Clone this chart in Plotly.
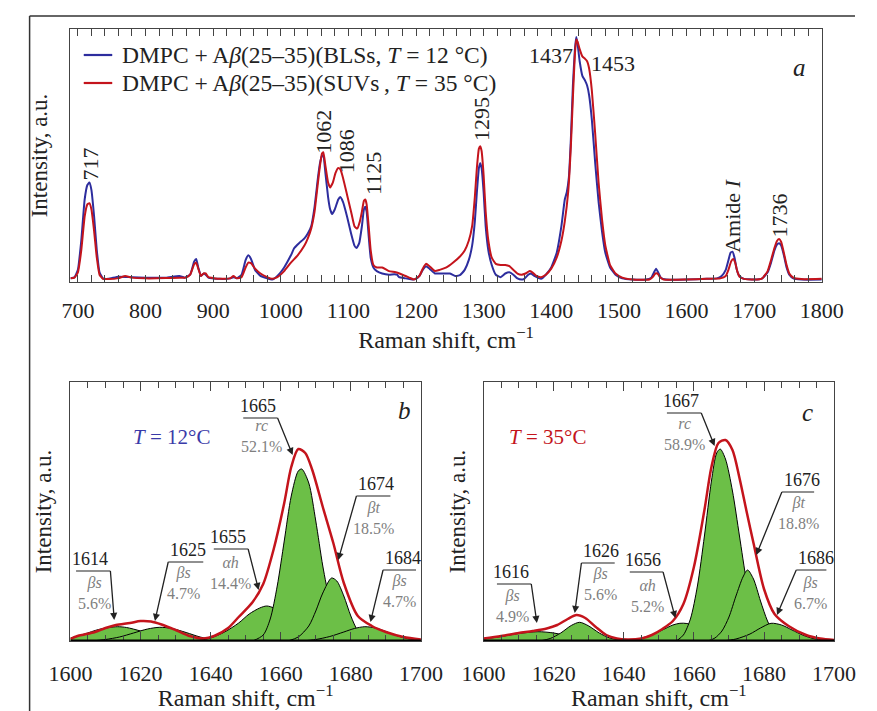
import plotly.graph_objects as go

W, H = 877, 711

# ---------------- Panel a: Raman spectra ----------------
blue_w = [689,695,700,705,710,714,717,720,724,728,732,737,745,760,780,800,830,850,858,866,872,875,878,882,886,889,893,910,925,930,935,942,948,952,956,962,970,980,987,
          995,1005,1015,1020,1027,1035,1040,1045,1050,1055,1058,1061,1063,1066,1070,1073,1076,1080,1085,1088,1092,1098,1104,1109,1112,1116,1120,1123,1125,1127,1130,1133,1137,1142,1150,1160,1168,1172,1175,1185,1195,
          1200,1205,1210,1215,1220,1228,1235,1242,1250,1258,1265,1272,1278,1283,1287,1290,1293,1295,1297,1300,1303,1307,1312,1318,1325,1332,1338,1344,1350,1356,1360,1366,1370,1375,1385,1392,1400,1408,1415,1420,1423,1426,1429,1432,1435,1437,1439,1442,1446,1450,1453,1456,1460,1465,1470,1475,1480,1487,1495,1505,1520,
          1540,1548,1552,1555,1558,1562,1570,1600,1630,1645,1652,1658,1662,1665,1668,1671,1674,1678,1685,1700,1712,1720,1725,1730,1734,1737,1740,1744,1748,1752,1758,1770,1800]
blue_i = [0.5,1,4,16,33,39,40,37,26,12,3,0.5,0.3,1.2,1,0.8,0.8,1.5,0.8,2,7.5,8.5,5,1.5,2.5,2,0.8,0.3,0.5,1,0.5,2,8,10,8.5,4,1.5,0.5,0,
          1.5,5,10,13,15,17,19,22,30,42,48,51,51,44,34,29,27,29,33,34,32,26,19,14,13,15,22,29,30,28,18,9,5,3.5,2.5,2,2.2,2,1,0.5,0,
          0.3,1.5,4,5.5,4.5,2.5,2.5,2.5,2.5,1.5,1.8,4,8,14,24,36,46,48,46,36,22,12,6,2,1,2.5,3,2,0.5,0,0.3,2,2.5,1.5,0.3,2,5,11,22,33,36,42,58,80,95,100,97,90,84,82,80,76,66,48,32,20,11,5,2,0.5,0,
          0,0.8,3,4.5,3,0.8,0,0,0.3,0.5,1.5,4,8,11,11.5,9,4.5,1.5,0.3,0,0.5,3,7,12,14.5,15,14,10,5,2,0.5,0,0]

red_w = [689,695,700,705,710,714,717,720,724,728,732,737,745,760,770,780,800,830,850,860,866,872,875,878,882,886,889,893,910,925,930,935,942,948,952,956,962,970,980,987,
         995,1005,1015,1025,1035,1040,1045,1050,1055,1058,1061,1063,1066,1070,1073,1077,1081,1085,1088,1092,1098,1104,1109,1113,1117,1120,1123,1125,1127,1130,1133,1137,1142,1150,1160,1170,1180,1190,1197,
         1205,1210,1215,1220,1228,1235,1245,1255,1265,1272,1278,1283,1287,1290,1293,1295,1297,1300,1303,1307,1312,1318,1325,1332,1338,1344,1350,1356,1362,1368,1372,1378,1385,1392,1400,1408,1415,1420,1425,1429,1432,1435,1437,1439,1442,1446,1450,1453,1456,1460,1465,1470,1475,1480,1487,1495,1505,1520,
         1545,1550,1554,1557,1561,1566,1600,1630,1650,1658,1662,1666,1669,1672,1675,1679,1685,1700,1712,1720,1725,1730,1734,1737,1740,1744,1748,1752,1758,1770,1800]
red_i = [0.5,0.8,3,12,26,31,31.5,29,20,9,2,0.3,0.2,0.6,1.5,0.8,0.5,0.6,0.8,0.8,2,6.3,7,4.5,1.5,2.5,2.5,1,0.3,0.5,1.5,0.5,1,5,7,6.8,4.5,2.5,1,0.3,
         1,3.5,7,10,14,17,21,28,40,47,52,52.5,47,40,38,40,44,46,45.5,42,35,28,22,21,24,28,32.5,33,31,22,12,6,5,5,3.5,3,2,0.8,0,
         1.5,4.5,6.5,5.5,3.5,4,5,7,9.5,12,16,22,34,46,54,55,53,43,28,16,9,6.5,6,6,5.5,4,2.5,2,2.5,3.5,3,1.5,1,2,4.5,9,16,24,36,55,75,93,99,98,95,92,91,90,87,78,60,40,25,14,6,2.5,0.8,0,
         0,1,2.5,2.5,1,0,0,0.3,0.5,1.5,4,7.5,8.5,7,3.5,1,0.3,0,0.5,3.5,8,13,16,16.7,15.5,11,6,2.5,0.8,0.2,0.3]

legend_names = ["DMPC + A<i>β</i>(25–35)(BLSs, <i>T</i> = 12 °C)",
                "DMPC + A<i>β</i>(25–35)(SUVs\u2009, <i>T</i> = 35 °C)"]

peak_labels_rot = ["717", "1062", "1086", "1125", "1295", "Amide <i>I</i>", "1736"]
peak_label_rot_pos = [(718, 47.5), (1064, 61), (1097, 53), (1137, 43.7), (1297, 66), (1668, 26.5), (1737, 26.5)]
peak_labels_h = ["1437", "1453"]
peak_label_h_pos = [(1399, 92.4), (1491, 89)]

y_title = "Intensity, a.u."
x_title = "Raman shift, cm<sup>−1</sup>"

# ---------------- Panels b, c: band fits ----------------
b_env_w = [1600,1602,1604,1607,1610,1613,1617,1620,1623,1626,1630,1634,1638,1641,1645,1648,1652,1655,1658,1661,1663,1665,1667,1669,1672,1675,1678,1682,1686,1690,1695,1700]
b_env_i = [2,5,6.5,9,13,16,18,20,19.5,16.5,11,5,2.5,5,13,24,39,57,92,138,174,192,188,171,134,98,58,25,15,9,4,1.5]

b_comp_w = [
    [1600,1604,1608,1611,1613.5,1616,1620,1624,1628,1632,1636],
    [1606,1610,1614,1618,1622,1625.5,1629,1633,1637,1641,1645],
    [1636,1640,1644,1648,1651,1654,1656,1658,1661,1664,1667,1670,1674],
    [1652,1655,1657,1659,1661,1663,1665,1666,1668,1670,1672,1674,1676,1678,1680,1683],
    [1662,1665,1668,1670,1672,1674.5,1676,1678,1680,1682,1684,1686],
    [1666,1670,1674,1678,1681,1684,1687,1690,1693,1696,1700],
]
b_comp_i = [
    [3,7,11.5,13.5,14.3,13.5,10,5.5,2.5,0.8,0],
    [0,1.5,4,8,12,13.7,12.5,8.5,4,1.2,0],
    [0,3,9,18,27,33,35,33,25,15,7,2.5,0],
    [0,6,22,55,100,145,170,172,158,120,75,40,18,7,2,0],
    [0,4,15,30,48,63,60,45,25,10,3,0],
    [0,1.5,4.5,9,12.5,14.3,13,9.5,5.5,2.5,0.5],
]
b_nums = ["1614", "1625", "1655", "1665", "1674", "1684"]
b_subs = ["<i>βs</i><br>5.6%", "<i>βs</i><br>4.7%", "<i>αh</i><br>14.4%", "<i>rc</i><br>52.1%", "<i>βt</i><br>18.5%", "<i>βs</i><br>4.7%"]

c_env_w = [1600,1605,1610,1614,1618,1621,1624,1626.5,1629,1632,1635,1638,1641,1645,1648,1651,1654,1657,1660,1663,1665,1667,1669,1671,1673,1675,1677,1680,1683,1687,1692,1696,1700]
c_env_i = [2.5,5,8,10,12.5,16,22,26,23,14,6,2.5,1.5,2.5,6,12,20,37,74,131,174,198,201,191,163,130,98,52,27,15,6,2.5,1]

c_comp_w = [
    [1600,1605,1610,1615.5,1620,1624,1628,1632,1636],
    [1616,1619,1622,1625,1627.4,1630,1633,1636,1640,1643],
    [1640,1644,1648,1651,1654,1656,1658,1661,1664,1668,1672],
    [1655,1657,1659,1661,1663,1665,1666.5,1667.5,1669,1671,1673,1675,1677,1679,1681,1683],
    [1664,1666,1668,1670,1672,1674,1675.3,1677,1679,1681,1683,1685,1687],
    [1668,1672,1676,1679,1682,1685,1688,1691,1694,1698],
]
c_comp_i = [
    [2,4.5,7.5,9.3,8,5,2.5,1,0],
    [0,2.5,8,15.5,18.7,15,8,3,0.5,0],
    [0,2,6,11,16,17.7,17.5,14,8,3,0],
    [0,6,22,55,105,160,188,192,182,150,105,60,28,10,3,0],
    [0,3,10,24,45,64,71,62,40,20,7,2,0],
    [0,2,7,13,17.7,16,11,6,2.5,0.5],
]
c_nums = ["1616", "1626", "1656", "1667", "1676", "1686"]
c_subs = ["<i>βs</i><br>4.9%", "<i>βs</i><br>5.6%", "<i>αh</i><br>5.2%", "<i>rc</i><br>58.9%", "<i>βt</i><br>18.8%", "<i>βs</i><br>6.7%"]

# label layout (data units): underline x0,x1,y ; side of underline where the arrow starts ; sub-text xy ; arrow tip
b_layout = [
    dict(ul=(1601.6, 1611.4, 70), side="right", sub=(1606.8, 48.5), tip=(1612.5, 21)),
    dict(ul=(1627.9, 1637.9, 79), side="left", sub=(1632.2, 58.5), tip=(1624.1, 20)),
    dict(ul=(1640.9, 1650.7, 92), side="right", sub=(1645.8, 68.5), tip=(1653.7, 51)),
    dict(ul=(1649.3, 1659.1, 223), side="right", sub=(1654.5, 205), tip=(1663.4, 186)),
    dict(ul=(1681.6, 1691.3, 145), side="left", sub=(1686.4, 123.5), tip=(1676.4, 81)),
    dict(ul=(1689.2, 1698.6, 71), side="left", sub=(1693.8, 50), tip=(1685.6, 19)),
]
c_layout = [
    dict(ul=(1603.8, 1613.6, 57), side="right", sub=(1608.1, 35), tip=(1615.2, 18)),
    dict(ul=(1627.9, 1637.4, 78), side="left", sub=(1633.3, 57), tip=(1626.0, 28)),
    dict(ul=(1641.7, 1651.2, 69), side="right", sub=(1646.9, 45), tip=(1654.7, 23)),
    dict(ul=(1652.3, 1662.1, 228), side="right", sub=(1657.2, 207), tip=(1665.9, 195)),
    dict(ul=(1685.1, 1694.3, 149), side="left", sub=(1689.7, 128.5), tip=(1677.8, 86)),
    dict(ul=(1689.2, 1697.8, 71), side="left", sub=(1693.2, 48.5), tip=(1683.7, 26)),
]

# ---------------- styles ----------------
FONT = "Liberation Serif"
BLUE = "#2d2d9e"
RED = "#c4141c"
GREEN = "#6cbf47"
AX = "#444444"
GREY = "#7f7f7f"
TXT = "#222222"

def px_x(p):
    return p / W

def px_y(p):
    return 1 - p / H

fig = go.Figure()

fig.add_trace(go.Scatter(x=blue_w, y=blue_i, mode="lines", name=legend_names[0], showlegend=False,
                         line=dict(color=BLUE, width=2, shape="spline", smoothing=0.4),
                         xaxis="x", yaxis="y"))
fig.add_trace(go.Scatter(x=red_w, y=red_i, mode="lines", name=legend_names[1], showlegend=False,
                         line=dict(color=RED, width=2, shape="spline", smoothing=0.4),
                         xaxis="x", yaxis="y"))

for ws, iis in zip(b_comp_w, b_comp_i):
    fig.add_trace(go.Scatter(x=ws, y=iis, mode="lines", fill="tozeroy", fillcolor=GREEN,
                             line=dict(color="black", width=1, shape="spline", smoothing=0.8),
                             showlegend=False, xaxis="x2", yaxis="y2"))
fig.add_trace(go.Scatter(x=b_env_w, y=b_env_i, mode="lines",
                         line=dict(color=RED, width=2.5, shape="spline", smoothing=0.8),
                         showlegend=False, xaxis="x2", yaxis="y2"))
for ws, iis in zip(c_comp_w, c_comp_i):
    fig.add_trace(go.Scatter(x=ws, y=iis, mode="lines", fill="tozeroy", fillcolor=GREEN,
                             line=dict(color="black", width=1, shape="spline", smoothing=0.8),
                             showlegend=False, xaxis="x3", yaxis="y3"))
fig.add_trace(go.Scatter(x=c_env_w, y=c_env_i, mode="lines",
                         line=dict(color=RED, width=2.5, shape="spline", smoothing=0.8),
                         showlegend=False, xaxis="x3", yaxis="y3"))

common_x = dict(showline=True, linecolor=AX, linewidth=1.2, mirror="ticks", ticks="inside",
                tickcolor=AX, showgrid=False, zeroline=False,
                tickfont=dict(family=FONT, size=22, color=TXT),
                title_font=dict(family=FONT, size=24, color=TXT))
common_y = dict(showline=True, linecolor=AX, linewidth=1.2, mirror=True, ticks="",
                showticklabels=False, showgrid=False, zeroline=False,
                title_font=dict(family=FONT, size=23, color=TXT))

fig.update_layout(
    width=W, height=H, margin=dict(l=0, r=0, t=0, b=0),
    paper_bgcolor="white", plot_bgcolor="white",
    font=dict(family=FONT, color=TXT),
    showlegend=False,
    xaxis=dict(**common_x, domain=[px_x(51), px_x(842)], range=[689, 1800], dtick=100, tick0=700,
               ticklen=7, minor=dict(ticks="inside", dtick=20, ticklen=7, tickcolor=AX),
               ticklabelstandoff=8,
               title=dict(text=x_title, standoff=9), anchor="y"),
    yaxis=dict(**common_y, domain=[px_y(282), px_y(29)], range=[-1.0, 103.3], anchor="x",
               title=dict(text=y_title, standoff=15)),
    xaxis2=dict(**common_x, domain=[px_x(51), px_x(420)], range=[1600, 1700], dtick=20,
                ticklen=9, minor=dict(ticks="inside", dtick=5, ticklen=6, tickcolor=AX),
                ticklabelstandoff=12,
                title=dict(text=x_title, standoff=5), anchor="y2"),
    yaxis2=dict(**common_y, domain=[px_y(641), px_y(382)], range=[0, 259], anchor="x2",
                title=dict(text=y_title, standoff=11)),
    xaxis3=dict(**common_x, domain=[px_x(486), px_x(855)], range=[1600, 1700], dtick=20,
                ticklen=9, minor=dict(ticks="inside", dtick=5, ticklen=6, tickcolor=AX),
                ticklabelstandoff=12,
                title=dict(text=x_title, standoff=5), anchor="y3"),
    yaxis3=dict(**common_y, domain=[px_y(641), px_y(382)], range=[0, 259], anchor="x3",
                title=dict(text=y_title, standoff=10)),
)

shapes = []
annotations = []
# outer frame (top and left rules)
shapes.append(dict(type="line", xref="paper", yref="paper", x0=px_x(8), x1=1.0, y0=px_y(16), y1=px_y(16),
                   line=dict(color="#333", width=1.5)))
shapes.append(dict(type="line", xref="paper", yref="paper", x0=px_x(8), x1=px_x(8), y0=px_y(16), y1=0,
                   line=dict(color="#333", width=1.5)))
# thick baselines of bottom panels
for xr, yr in (("x2", "y2"), ("x3", "y3")):
    shapes.append(dict(type="line", xref=xr + " domain", yref=yr, x0=0, x1=1, y0=0, y1=0,
                       line=dict(color="black", width=3)))

# legend (drawn key lines + text)
for name, col, yp in ((legend_names[0], BLUE, 55), (legend_names[1], RED, 83)):
    shapes.append(dict(type="line", xref="paper", yref="paper", x0=px_x(65), x1=px_x(95),
                       y0=px_y(yp), y1=px_y(yp), line=dict(color=col, width=2.2)))
    annotations.append(dict(xref="paper", yref="paper", x=px_x(103), y=px_y(yp), text=name,
                            xanchor="left", yanchor="middle", showarrow=False,
                            font=dict(family=FONT, size=23.5, color=TXT)))

# panel a labels
for t, (xx, yy) in zip(peak_labels_rot, peak_label_rot_pos):
    annotations.append(dict(xref="x", yref="y", x=xx, y=yy, text=t, textangle=-90, showarrow=False,
                            font=dict(family=FONT, size=22, color=TXT)))
for t, (xx, yy) in zip(peak_labels_h, peak_label_h_pos):
    annotations.append(dict(xref="x", yref="y", x=xx, y=yy, text=t, showarrow=False,
                            font=dict(family=FONT, size=22, color=TXT)))
# panel letters
for t, xp, yp in (("<i>a</i>", 827, 52), ("<i>b</i>", 403, 410), ("<i>c</i>", 835, 412)):
    annotations.append(dict(xref="paper", yref="paper", x=px_x(xp), y=px_y(yp), text=t, showarrow=False,
                            font=dict(family=FONT, size=25, color=TXT)))
# temperature labels
annotations.append(dict(xref="paper", yref="paper", x=px_x(115), y=px_y(437), text="<i>T</i> = 12°C",
                        showarrow=False, font=dict(family=FONT, size=21, color="#3a3aa8")))
annotations.append(dict(xref="paper", yref="paper", x=px_x(553), y=px_y(437), text="<i>T</i> = 35°C",
                        showarrow=False, font=dict(family=FONT, size=21, color=RED)))

# band labels: number sits on its underline; the arrow starts at one end of the underline
for xr, yr, nums, subs, lay in (("x2", "y2", b_nums, b_subs, b_layout), ("x3", "y3", c_nums, c_subs, c_layout)):
    for n, s, L in zip(nums, subs, lay):
        x0, x1, yu = L["ul"]
        start = x1 if L["side"] == "right" else x0
        annotations.append(dict(xref=xr, yref=yr, x=L["tip"][0], y=L["tip"][1], ax=start, ay=yu,
                                axref=xr, ayref=yr, text=n, xanchor=L["side"], yanchor="bottom",
                                showarrow=True, arrowhead=2, arrowsize=1.1, arrowwidth=1.3,
                                arrowcolor=TXT, borderpad=1,
                                font=dict(family=FONT, size=18, color=TXT)))
        annotations.append(dict(xref=xr, yref=yr, x=L["sub"][0], y=L["sub"][1], text=s, showarrow=False,
                                font=dict(family=FONT, size=16, color=GREY)))
        shapes.append(dict(type="line", xref=xr, yref=yr, x0=x0, x1=x1, y0=yu, y1=yu,
                           line=dict(color=TXT, width=1.2)))

fig.update_layout(shapes=shapes, annotations=annotations)
fig.write_html("out.html")
